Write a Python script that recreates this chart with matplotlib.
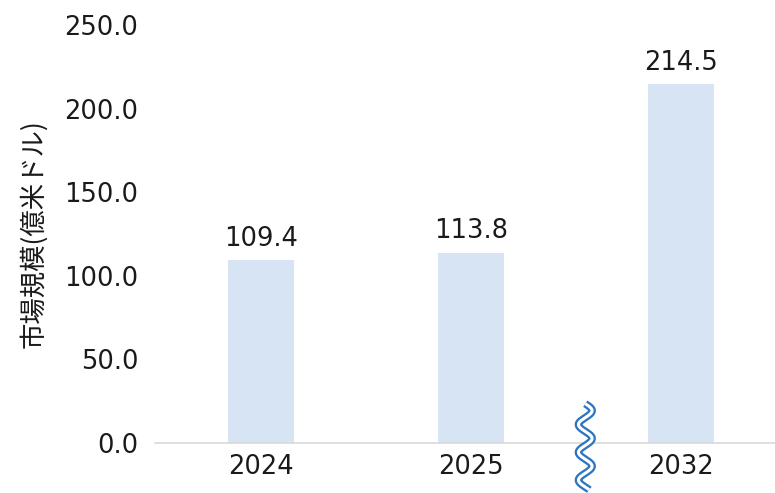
import numpy as np
import matplotlib.pyplot as plt

plt.rcParams['font.family'] = ['DejaVu Sans', 'Noto Sans CJK JP']

years  = ['2024', '2025', '2032']
market = [109.4, 113.8, 214.5]
yticks = [0, 50, 100, 150, 200, 250]

fig = plt.figure(figsize=(7.75, 4.93), dpi=100)
ax = fig.add_axes([0.2, 1 - 443 / 493, 0.8, (443 - 25) / 493])

x = np.arange(len(years))
ax.bar(x, market, width=0.314, color='#D6E4F3', zorder=2)
for xi, v in zip(x, market):
    ax.annotate(f'{v:.1f}', (xi, v), textcoords='offset points', xytext=(0, 6),
                ha='center', va='bottom', fontsize=18.5, color='#1a1a1a')

ax.set_xlim(-0.505, 2.45)
ax.set_ylim(0, 250)
ax.set_xticks(x)
ax.set_xticklabels(years)
ax.set_yticks(yticks)
ax.set_yticklabels([f'{t:.1f}' for t in yticks])
ax.tick_params(axis='both', length=0, labelsize=18.5, colors='#1a1a1a')
ax.tick_params(axis='x', pad=8)
ax.tick_params(axis='y', pad=12)
ax.set_ylabel('市場規模(億米ドル)', fontsize=19, color='#1a1a1a', labelpad=12,
              family=['Noto Sans CJK JP', 'DejaVu Sans'])

for s in ['top', 'right', 'left']:
    ax.spines[s].set_visible(False)
ax.spines['bottom'].set_color('#D9D9D9')
ax.spines['bottom'].set_linewidth(1.2)

# ── wavy axis-break mark ──
t = np.linspace(0, 1, 400)
yy = 0.094 - t * 0.206
xx = 0.694 + 0.011 * np.sin(2 * np.pi * 3.1 * t)
ax.plot(xx, yy, transform=ax.transAxes, color='#2E75C0', lw=5.5,
        clip_on=False, zorder=5, solid_capstyle='butt')
ax.plot(xx, yy, transform=ax.transAxes, color='white', lw=2.2,
        clip_on=False, zorder=6, solid_capstyle='butt')

fig.savefig('out.png', dpi=100, facecolor='white')
